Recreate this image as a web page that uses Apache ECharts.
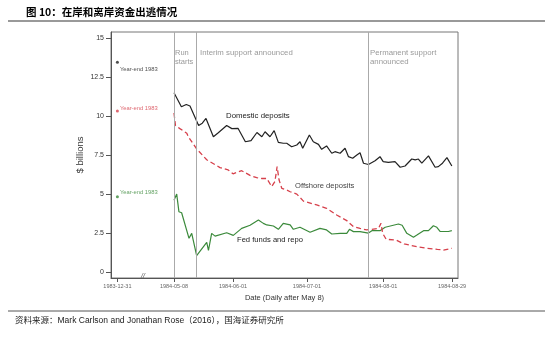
<!DOCTYPE html>
<html>
<head>
<meta charset="utf-8">
<script src="https://cdn.jsdelivr.net/npm/echarts@6/dist/echarts.min.js"></script>
<style>html,body{margin:0;padding:0;background:#fff;}#c{width:550px;height:338px;}</style>
</head>
<body>
<div id="c"></div>
<script>
// ---- data ----
const tickDays = [-23, 0, 24, 54, 85, 113];
const tickLabels = ['1983-12-31', '1984-05-08', '1984-06-01', '1984-07-01', '1984-08-01', '1984-08-29'];
const yTicks = [0, 2.5, 5, 7.5, 10, 12.5, 15];
const eventDays = [0, 9, 79];

const yearEndDay = -23;
const yearEndVals = [13.46, 10.33, 4.83]; // domestic, offshore, fed funds

const domDays = [0, 3, 5, 6.5, 10, 11.5, 13, 16, 18, 21.4, 23.5, 26, 29, 31.3, 33.7, 35.7, 37, 39, 40.7, 42.4, 44.4, 45.8, 47.8, 49.9, 51.2, 52.3, 55, 56.6, 58.7, 60, 62, 64.1, 65.4, 67.5, 69.5, 70.9, 72.6, 74.3, 75.6, 77, 79, 81.7, 83.7, 85, 87.1, 89.8, 91.9, 93.9, 96.6, 98, 99.3, 100.7, 103.4, 106.1, 107.4, 109.1, 110.9, 112.9];
const domVals = [11.5, 10.6, 10.75, 10.65, 9.4, 9.55, 9.85, 8.68, 8.94, 9.4, 9.2, 9.22, 8.36, 8.43, 8.95, 8.68, 9.0, 8.68, 9.07, 8.32, 8.26, 8.26, 8.04, 8.15, 8.36, 7.94, 8.79, 8.36, 8.19, 7.87, 8.09, 7.62, 7.72, 7.62, 7.94, 7.40, 7.30, 7.51, 7.65, 6.98, 6.9, 7.14, 7.40, 7.08, 7.04, 7.08, 6.72, 6.80, 7.25, 7.19, 7.25, 6.98, 7.45, 6.72, 6.76, 6.98, 7.34, 6.80];

const offDays = [0, 0.6, 2.4, 5.2, 5.8, 9.2, 13.3, 18.7, 22, 24, 27.5, 30.9, 33.6, 35.7, 37.7, 39.7, 41, 41.9, 42.7, 43.8, 45.8, 47.2, 49.9, 52.6, 58, 62, 66.1, 70.2, 72.9, 75.6, 78.3, 80.4, 83.1, 84.1, 84.8, 86.2, 90.2, 93.5, 98.7, 103, 107, 109.5, 112.9];
const offVals = [10.2, 9.4, 9.2, 8.9, 8.68, 7.9, 7.2, 6.7, 6.55, 6.3, 6.5, 6.2, 6.05, 6.0, 6.0, 5.48, 5.8, 6.76, 5.9, 5.37, 5.26, 5.15, 5.0, 4.55, 4.3, 4.09, 3.66, 3.3, 2.91, 2.8, 2.7, 2.74, 2.8, 3.12, 2.48, 2.1, 2.05, 1.8, 1.62, 1.52, 1.45, 1.41, 1.52];

const fedDays = [0, 1.1, 2, 3.1, 6.1, 7.2, 7.8, 9.2, 9.9, 13.3, 14, 15.3, 16.7, 21.4, 24.1, 27.5, 30.9, 34.3, 36.3, 37.7, 40.4, 42.4, 44.4, 47.2, 48.5, 51.2, 55.3, 59.3, 62, 64.1, 67.5, 70.2, 71.3, 72.9, 75.6, 79, 80.4, 83.7, 85.8, 91.2, 92.7, 94.6, 97.3, 98.7, 101.4, 103.4, 105.4, 106.8, 108.1, 111.5, 112.9];
const fedVals = [4.6, 5.0, 3.87, 3.8, 2.16, 2.48, 2.37, 1.05, 1.06, 1.9, 1.38, 2.48, 2.3, 2.52, 2.35, 2.8, 3.0, 3.34, 3.12, 3.02, 2.95, 2.74, 3.12, 3.02, 2.74, 2.87, 2.55, 2.80, 2.70, 2.44, 2.48, 2.48, 2.74, 2.59, 2.59, 2.5, 2.65, 2.65, 2.87, 3.08, 3.0, 2.48, 2.23, 2.37, 2.65, 2.65, 2.97, 2.87, 2.6, 2.6, 2.65];

const zip = (a, b) => a.map((d, i) => [d, b[i]]);

const BLACK = '#222222', RED = '#d6404b', GREEN = '#3b8a3b', GRAY = '#9a9a9a';

const chart = echarts.init(document.getElementById('c'), null, {renderer: 'canvas'});
const option = {
  animation: false,
  backgroundColor: '#fff',
  grid: {left: 111, top: 32, width: 347, height: 246, show: true, borderColor: '#777', borderWidth: 1, outerBoundsMode: 'none'},
  xAxis: {
    type: 'value', min: -25.6, max: 115.4,
    name: 'Date (Daily after May 8)', nameLocation: 'middle', nameGap: 16,
    nameTextStyle: {fontSize: 7.5, color: '#333', fontFamily: 'Liberation Sans'},
    axisLine: {show: true, onZero: false, lineStyle: {color: '#555', width: 1}},
    axisTick: {show: true, length: 4, customValues: tickDays, lineStyle: {color: '#555'}},
    axisLabel: {customValues: tickDays, fontSize: 5.5, color: '#666', margin: 5, fontFamily: 'Liberation Sans',
      formatter: v => { const i = tickDays.indexOf(v); return i >= 0 ? tickLabels[i] : ''; }},
    splitLine: {show: false}
  },
  yAxis: {
    type: 'value', min: -0.385, max: 15.4,
    axisLine: {show: true, onZero: false, lineStyle: {color: '#555', width: 1}},
    axisTick: {show: true, length: 5, customValues: yTicks, lineStyle: {color: '#555'}},
    axisLabel: {customValues: yTicks, fontSize: 7, color: '#333', margin: 7, fontFamily: 'Liberation Sans'},
    splitLine: {show: false}
  },
  series: [
    {
      type: 'line', name: 'Domestic deposits', data: zip(domDays, domVals), showSymbol: false,
      lineStyle: {color: BLACK, width: 1.2}, z: 3,
      markLine: {silent: true, symbol: 'none', label: {show: false},
        lineStyle: {color: '#aaa', width: 1, type: 'solid'},
        data: eventDays.map(d => ({xAxis: d}))}
    },
    {
      type: 'line', name: 'Offshore deposits', data: zip(offDays, offVals), showSymbol: false,
      lineStyle: {color: RED, width: 1.3, type: [5, 3]}, z: 4
    },
    {
      type: 'line', name: 'Fed funds and repo', data: zip(fedDays, fedVals), showSymbol: false,
      lineStyle: {color: GREEN, width: 1.2}, z: 3
    },
    {
      type: 'scatter', symbolSize: 3,
      data: [
        {value: [yearEndDay, yearEndVals[0]], itemStyle: {color: BLACK}, label: {color: BLACK, offset: [0, 7]}},
        {value: [yearEndDay, yearEndVals[1]], itemStyle: {color: RED}, label: {color: RED, offset: [0, -3]}},
        {value: [yearEndDay, yearEndVals[2]], itemStyle: {color: GREEN}, label: {color: GREEN, offset: [0, -4]}}
      ],
      label: {show: true, position: 'right', distance: 1, formatter: 'Year-end 1983', fontSize: 5.8, fontFamily: 'Liberation Sans'}
    }
  ],
  graphic: [
    {type: 'text', left: 26, top: 7, style: {text: '图 10：在岸和离岸资金出逃情况', font: 'bold 10.5px "Noto Sans CJK SC"', fill: '#000'}},
    {type: 'line', shape: {x1: 8, y1: 21, x2: 545, y2: 21}, style: {stroke: '#999', lineWidth: 2}},
    {type: 'line', shape: {x1: 8, y1: 311, x2: 545, y2: 311}, style: {stroke: '#555', lineWidth: 1}},
    {type: 'text', left: 15, top: 316, style: {text: '资料来源：Mark Carlson and Jonathan Rose（2016），国海证券研究所', font: '8.5px "Liberation Sans", "Noto Sans CJK SC"', fill: '#222'}},
    {type: 'text', x: 80, y: 155, rotation: Math.PI / 2, style: {text: '$ billions', font: '9.5px "Liberation Sans"', fill: '#333', align: 'center', verticalAlign: 'middle'}},
    {type: 'text', left: 141, top: 273, style: {text: '//', font: 'italic 7px "Liberation Sans"', fill: '#555'}},
    {type: 'text', left: 175, top: 49, style: {text: 'Run\nstarts', font: '7.5px "Liberation Sans"', fill: GRAY, lineHeight: 8.5}},
    {type: 'text', left: 200, top: 49, style: {text: 'Interim support announced', font: '7.8px "Liberation Sans"', fill: GRAY}},
    {type: 'text', left: 370, top: 49, style: {text: 'Permanent support\nannounced', font: '7.8px "Liberation Sans"', fill: GRAY, lineHeight: 8.5}},
    {type: 'text', left: 226, top: 112, style: {text: 'Domestic deposits', font: '7.8px "Liberation Sans"', fill: '#222'}},
    {type: 'text', left: 295, top: 182, style: {text: 'Offshore deposits', font: '7.6px "Liberation Sans"', fill: '#444'}},
    {type: 'text', left: 237, top: 236, style: {text: 'Fed funds and repo', font: '7.6px "Liberation Sans"', fill: '#222'}}
  ]
};
chart.setOption(option);
</script>
</body>
</html>
